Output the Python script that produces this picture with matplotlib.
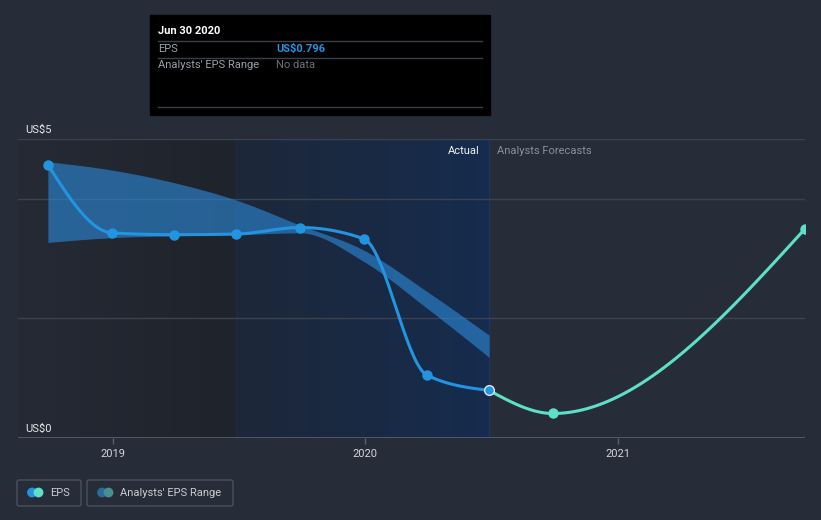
import numpy as np
import matplotlib
matplotlib.use("Agg")
import matplotlib.pyplot as plt
from matplotlib.patches import Rectangle, FancyBboxPatch, Circle

plt.rcParams['font.family'] = ['Roboto', 'DejaVu Sans']

# ---------------- data ----------------
eps_dates = [2018.742, 2018.996, 2019.242, 2019.487, 2019.741, 2019.994, 2020.244, 2020.490]
eps_values = [4.57, 3.43, 3.40, 3.41, 3.52, 3.33, 1.05, 0.796]

fc_dates = [2020.490, 2020.743, 2021.742]
fc_values = [0.796, 0.41, 3.50]

band_dates = eps_dates
band_high = [4.62, 4.48, 4.27, 3.98, 3.56, 3.14, 2.45, 1.72]
band_low = [3.27, 3.35, 3.38, 3.40, 3.43, 2.95, 2.17, 1.35]

x_ticks = [2019, 2020, 2021]
x_tick_labels = ["2019", "2020", "2021"]
y_labels = {5: "US$5", 0: "US$0"}
grid_values = [2, 4, 5]

past_start = 2019.487   # start of highlighted "past year" region
split_date = 2020.490   # Actual / Forecast split

# ---------------- helpers ----------------
def monotone(x, y, n=60):
    x = np.asarray(x, float); y = np.asarray(y, float)
    h = np.diff(x); s = np.diff(y) / h
    t = np.zeros(len(x))
    for i in range(1, len(x) - 1):
        s0, s1, h0, h1 = s[i-1], s[i], h[i-1], h[i]
        p = (s0 * h1 + s1 * h0) / (h0 + h1)
        t[i] = (np.sign(s0) + np.sign(s1)) * min(abs(s0), abs(s1), 0.5 * abs(p))
    t[0] = (3 * s[0] - t[1]) / 2
    t[-1] = (3 * s[-1] - t[-2]) / 2
    xs, ys = [], []
    for i in range(len(x) - 1):
        u = np.linspace(0, 1, n, endpoint=(i == len(x) - 2))
        h00 = 2*u**3 - 3*u**2 + 1
        h10 = u**3 - 2*u**2 + u
        h01 = -2*u**3 + 3*u**2
        h11 = u**3 - u**2
        xs.append(x[i] + u * h[i])
        ys.append(h00*y[i] + h10*h[i]*t[i] + h01*y[i+1] + h11*h[i]*t[i+1])
    return np.concatenate(xs), np.concatenate(ys)

# ---------------- figure ----------------
W, H = 821, 520
fig = plt.figure(figsize=(W/100, H/100), dpi=100)
BG = '#262c38'
fig.patch.set_facecolor(BG)

x_left_px, x_right_px = 18, 805
y_bot_px, y_top_px = 438, 139
ax = fig.add_axes([x_left_px/W, 1 - y_bot_px/H, (x_right_px - x_left_px)/W, (y_bot_px - y_top_px)/H])
ax.set_facecolor(BG)
xmin = 2019 - (113 - x_left_px) / 252.4
xmax = 2019 + (x_right_px - 113) / 252.4
ax.set_xlim(xmin, xmax)
ax.set_ylim(0, 5)

# background regions with gradients
g = np.linspace(0, 1, 256)[None, :, None]
c1 = np.array([37, 42, 53]) / 255; c2 = np.array([31, 35, 43]) / 255
grad_dark = c1 + (c2 - c1) * g
ax.imshow(grad_dark, extent=[xmin, past_start, 0, 5], aspect='auto', zorder=0, interpolation='bilinear')
b1 = np.array([29, 39, 57]) / 255; b2 = np.array([22, 44, 78]) / 255
grad_blue = b1 + (b2 - b1) * g
ax.imshow(grad_blue, extent=[past_start, split_date, 0, 5], aspect='auto', zorder=0, interpolation='bilinear')
ax.axvline(split_date, color='#1c3660', lw=1.0, zorder=0.5)
ax.axvline(past_start, color='#1e2b42', lw=1.0, zorder=0.5)

# gridlines
for gv in grid_values:
    ax.axhline(gv, color='#3c4250', lw=1, zorder=1)

# analyst band
bx, bh = monotone(band_dates, band_high)
_, bl = monotone(band_dates, band_low)
ax.fill_between(bx, bl, bh, color=(44/255, 136/255, 214/255), alpha=0.62, lw=0, zorder=2)

# EPS line
ex, ey = monotone(eps_dates, eps_values)
ax.plot(ex, ey, color='#2394e0', lw=2.2, zorder=4, solid_capstyle='round')
ax.plot(eps_dates[:-1], eps_values[:-1], 'o', color='#2394e0', ms=6.5, zorder=5)

# forecast line
fx, fy = monotone(fc_dates, fc_values)
ax.plot(fx, fy, color='#5de0c8', lw=2.2, zorder=4)
ax.plot(fc_dates[1:], fc_values[1:], 'o', color='#5de0c8', ms=6.5, zorder=5)
ax.plot([eps_dates[-1]], [eps_values[-1]], 'o', color='#2394e0', ms=7,
        mec='#dbe8f5', mew=1.0, zorder=6)

# spines & ticks
for sp in ax.spines.values():
    sp.set_visible(False)
ax.axhline(0, color='#596070', lw=1.2, zorder=3)
ax.set_yticks([])
ax.set_xticks(x_ticks)
ax.set_xticklabels(x_tick_labels)
ax.tick_params(axis='x', length=4, width=1, color='#596070', labelcolor='#d2d6dc',
               labelsize=8, pad=4)

for v, lab in y_labels.items():
    ax.annotate(lab, xy=(0, v), xycoords=('axes fraction', 'data'), xytext=(7, 4),
                textcoords='offset pixels', va='bottom', ha='left', color='#e6e8eb', fontsize=8)

ax.annotate("Actual", xy=(split_date, 5), xytext=(-9, -12), textcoords='offset pixels',
            ha='right', va='center', color='#f0f2f4', fontsize=8)
ax.annotate("Analysts Forecasts", xy=(split_date, 5), xytext=(8, -12), textcoords='offset pixels',
            ha='left', va='center', color='#8a909a', fontsize=8)

# ---------------- overlay (tooltip + legend) ----------------
ov = fig.add_axes([0, 0, 1, 1], facecolor='none')
ov.set_xlim(0, W); ov.set_ylim(H, 0); ov.axis('off')

ov.add_patch(Rectangle((150, 15), 340, 100, color='#000000', zorder=1))
for yy in (40.5, 57.5, 106.5):
    ov.plot([158, 482], [yy, yy], color='#3a3f47', lw=1, zorder=2)
ov.text(158, 31, "Jun 30 2020", color='white', fontsize=8, fontweight='bold', va='center', zorder=3)
ov.text(158, 48.5, "EPS", color='#9aa0a8', fontsize=8, va='center', zorder=3)
ov.text(276, 48.5, "US$0.796", color='#2394e0', fontsize=8, fontweight='bold', va='center', zorder=3)
ov.text(158, 65.5, "Analysts' EPS Range", color='#9aa0a8', fontsize=8, va='center', zorder=3)
ov.text(276, 65.5, "No data", color='#6b7078', fontsize=8, va='center', zorder=3)

# legend
for (x0, x1) in ((17, 81), (87, 233)):
    ov.add_patch(FancyBboxPatch((x0, 480), x1 - x0, 26, boxstyle="round,pad=0,rounding_size=2",
                                fc='none', ec='#4b515d', lw=1, zorder=2))
ov.add_patch(Circle((32, 492.5), 4.2, color='#2394e0', zorder=3))
ov.add_patch(Circle((38.5, 492.5), 4.2, color='#5de0c8', zorder=3))
ov.add_patch(Circle((102, 492.5), 4.2, color='#2a6a9e', zorder=3))
ov.add_patch(Circle((108.5, 492.5), 4.2, color='#4a8f90', zorder=3))
ov.text(50, 493, "EPS", color='#c8ccd2', fontsize=8, va='center', zorder=3)
ov.text(120, 493, "Analysts' EPS Range", color='#c8ccd2', fontsize=8, va='center', zorder=3)

fig.savefig("out.png", dpi=100, facecolor=fig.get_facecolor())
